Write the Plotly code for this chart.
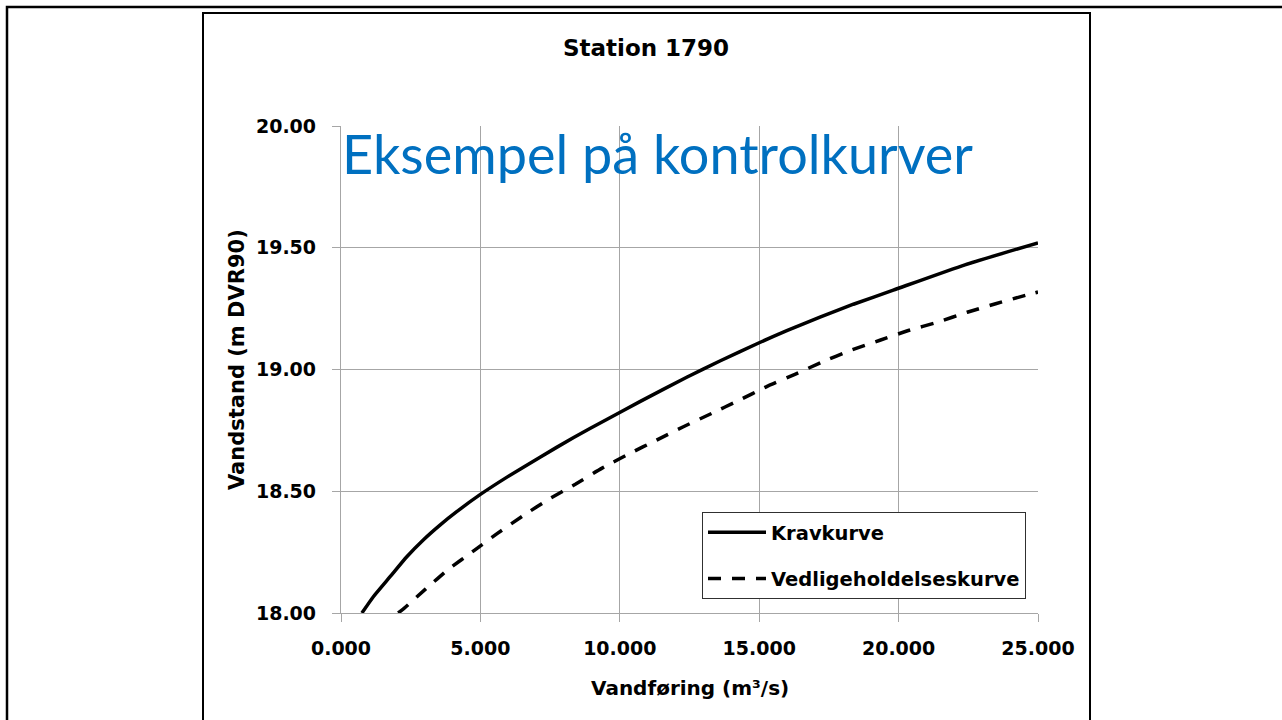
import plotly.graph_objects as go

# --- data ---
krav_q = [0.75, 1.16, 1.76, 2.36, 2.95, 3.55, 4.15, 5.0, 5.94, 7.14, 8.33, 9.53,
          10.72, 12.4, 13.59, 15.0, 15.99, 17.18, 18.38, 19.81, 22.38, 25.0]
krav_h = [18.0, 18.067, 18.149, 18.231, 18.30, 18.361, 18.416, 18.487, 18.557, 18.64, 18.72, 18.795,
          18.868, 18.968, 19.035, 19.11, 19.16, 19.215, 19.268, 19.326, 19.43, 19.52]
vedl_q = [2.05, 2.26, 3.04, 3.87, 4.77, 5.61, 6.54, 7.46, 8.42, 9.35, 10.37, 11.32, 12.28,
          13.30, 14.25, 15.27, 16.28, 17.24, 18.26, 19.33, 20.35, 21.39, 22.46, 23.48, 24.56, 25.0]
vedl_h = [18.0, 18.019, 18.099, 18.181, 18.256, 18.327, 18.40, 18.468, 18.53, 18.594, 18.656, 18.71, 18.765,
          18.82, 18.872, 18.93, 18.98, 19.03, 19.078, 19.12, 19.16, 19.194, 19.235, 19.27, 19.305, 19.318]

x_ticks = [0, 5, 10, 15, 20, 25]
y_ticks = [18.0, 18.5, 19.0, 19.5, 20.0]

chart_title = "Station 1790"
overlay_text = "Eksempel på kontrolkurver"
x_title = "Vandføring (m³/s)"
y_title = "Vandstand (m DVR90)"

W, H = 1282, 720
L, R, T, B = 341, 1038, 126, 613  # plot area in pixels


def px(xp):
    return (xp - L) / (R - L)


def py(yp):
    return (B - yp) / (B - T)


FONT = "DejaVu Sans"
GRID = "#A6A6A6"

fig = go.Figure()
fig.add_trace(go.Scatter(
    x=krav_q, y=krav_h, mode="lines", name="Kravkurve", legendgroup="a",
    line=dict(color="black", width=3.5, shape="spline", smoothing=0.5),
))
fig.add_trace(go.Scatter(
    x=vedl_q, y=vedl_h, mode="lines", name="Vedligeholdelseskurve", legendgroup="b",
    line=dict(color="black", width=3.5, dash="13px,11px", shape="spline", smoothing=0.5),
))

axis_common = dict(
    showgrid=True, gridcolor=GRID, gridwidth=1.3,
    showline=True, linecolor=GRID, linewidth=1.3,
    ticks="outside", ticklen=8, tickcolor=GRID, tickwidth=1.3,
    tickfont=dict(family=FONT, size=19, color="black", weight="bold"),
    zeroline=False, fixedrange=True,
)

fig.update_xaxes(
    range=[0, 25], tickvals=x_ticks, tickformat=".3f",
    ticklabelstandoff=10,
    **axis_common,
)
fig.update_yaxes(
    range=[18, 20], tickvals=y_ticks, tickformat=".2f",
    ticklabelstandoff=12,
    **axis_common,
)

fig.update_layout(
    width=W, height=H,
    margin=dict(l=L, r=W - R, t=T, b=H - B, pad=0),
    paper_bgcolor="white", plot_bgcolor="white",
    showlegend=True,
    title=dict(
        text=chart_title, x=px(646), xref="paper", xanchor="center",
        y=1 - 48 / H, yref="container", yanchor="middle",
        font=dict(family=FONT, size=23, color="black", weight="bold"),
    ),
    legend=dict(
        x=px(702), y=py(512), xanchor="left", yanchor="top",
        bgcolor="white", bordercolor="#303030", borderwidth=1,
        font=dict(family=FONT, size=19.5, color="black", weight="bold"),
        tracegroupgap=18, traceorder="grouped", itemwidth=58,
    ),
)

# axis titles (annotations for exact placement)
fig.add_annotation(
    text=x_title, xref="paper", yref="paper", x=px(690), y=py(688),
    xanchor="center", yanchor="middle", showarrow=False,
    font=dict(family=FONT, size=20, color="black", weight="bold"),
)
fig.add_annotation(
    text=y_title, xref="paper", yref="paper", x=px(237), y=py(360),
    xanchor="center", yanchor="middle", showarrow=False, textangle=-90,
    font=dict(family=FONT, size=21, color="black", weight="bold"),
)

# overlay slide text
fig.add_annotation(
    text=overlay_text, xref="paper", yref="paper", x=px(340), y=py(153),
    xanchor="left", yanchor="middle", showarrow=False,
    font=dict(family="Lato", size=54, color="#0070C0"),
)

# chart frame and slide frame
fig.add_shape(type="rect", xref="paper", yref="paper",
              x0=px(203), x1=px(1090), y0=py(740), y1=py(13),
              line=dict(color="black", width=2), layer="above")
fig.add_shape(type="rect", xref="paper", yref="paper",
              x0=px(7), x1=px(1300), y0=py(740), y1=py(7),
              line=dict(color="black", width=2.5), layer="above")

fig.write_html(
    "out.html",
    config={"displayModeBar": False},
    post_script="document.body.style.margin='0';document.body.style.overflow='hidden';",
)
